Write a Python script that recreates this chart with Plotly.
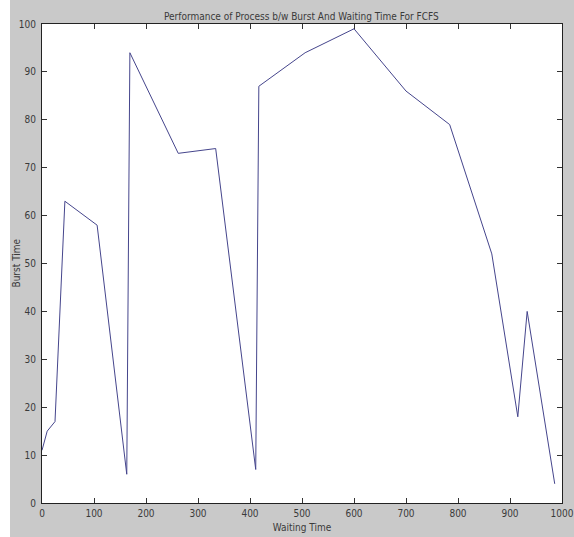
import plotly.graph_objects as go

waiting_time = [0, 10, 25, 44, 106, 163, 169, 262, 334, 411, 417, 506, 600, 700, 784, 865, 915, 933, 986]
burst_time = [11, 15, 17, 63, 58, 6, 94, 73, 74, 7, 87, 94, 99, 86, 79, 52, 18, 40, 4]

x_ticks = list(range(0, 1001, 100))
y_ticks = list(range(0, 101, 10))

FONT = "DejaVu Sans Condensed, Liberation Sans Narrow, Arial Narrow, Liberation Sans, sans-serif"
TXT = "#3a3a3a"

W, H = 574, 537
ML, MR, MT, MB = 42, 12, 24, 34
PW = W - ML - MR

fig = go.Figure()
fig.add_trace(go.Scatter(
    x=waiting_time, y=burst_time, mode="lines",
    line=dict(color="#45458c", width=1),
    showlegend=False,
))

axis_common = dict(
    showline=True, linecolor="#222222", linewidth=1, mirror="ticks",
    ticks="inside", ticklen=5, tickcolor="#333333", tickwidth=1,
    showgrid=False, zeroline=False, automargin=False,
    tickfont=dict(family=FONT, size=10, color=TXT),
)

fig.update_layout(
    width=W, height=H,
    margin=dict(l=ML, r=MR, t=MT, b=MB),
    paper_bgcolor="#c9c9c9",
    plot_bgcolor="#ffffff",
    title=dict(text="Performance of Process b/w Burst And Waiting Time For FCFS",
               x=0.525, xanchor="center", y=0.970, yanchor="middle",
               font=dict(family=FONT, size=10, color=TXT)),
    xaxis=dict(range=[0, 1000], tickvals=x_ticks, ticklabelstandoff=1,
               title=dict(text="Waiting Time", standoff=5,
                          font=dict(family=FONT, size=10, color=TXT)),
               **axis_common),
    yaxis=dict(range=[0, 100], tickvals=y_ticks, ticklabelstandoff=3,
               **axis_common),
    annotations=[dict(
        text="Burst Time", textangle=-90, showarrow=False,
        xref="paper", yref="paper", x=(16 - ML) / PW, y=0.5,
        xanchor="center", yanchor="middle",
        font=dict(family=FONT, size=10, color=TXT),
    )],
    shapes=[dict(
        type="rect", xref="paper", yref="paper", layer="below",
        x0=-ML / PW, x1=(10 - ML) / PW, y0=-MB / (H - MT - MB), y1=1 + MT / (H - MT - MB),
        fillcolor="#ffffff", line=dict(width=0),
    )],
)

fig.write_html("out.html")
